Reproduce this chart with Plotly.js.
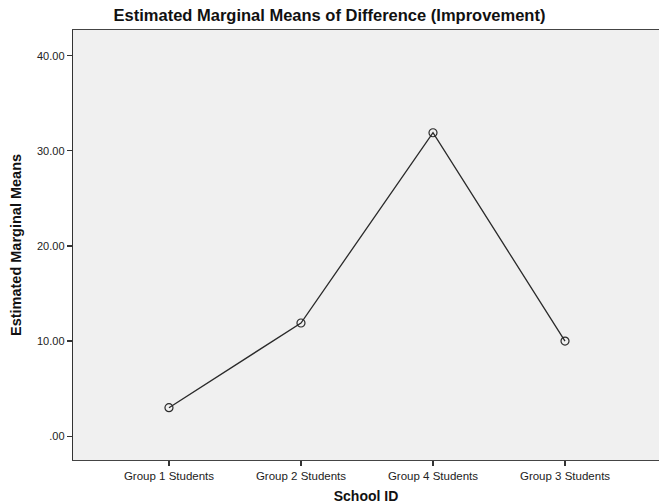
<!DOCTYPE html>
<html>
<head>
<meta charset="utf-8">
<script src="https://cdn.plot.ly/plotly-3.0.1.min.js"></script>
<style>html,body{margin:0;padding:0;background:#fff;}#chart{width:659px;height:504px;}</style>
</head>
<body>
<div id="chart"></div>
<script>
const categories = ["Group 1 Students", "Group 2 Students", "Group 4 Students", "Group 3 Students"];
const means = [3.0, 11.9, 31.9, 10.0];
const yTickValues = [0, 10, 20, 30, 40];
const yTickLabels = [".00", "10.00", "20.00", "30.00", "40.00"];

const trace = {
  x: categories,
  y: means,
  type: "scatter",
  mode: "lines+markers",
  line: {color: "#2a2a2a", width: 1.3},
  marker: {symbol: "circle-open", size: 8, color: "#2a2a2a", line: {width: 1.2, color: "#2a2a2a"}},
  hoverinfo: "skip",
  showlegend: false
};

const layout = {
  width: 659,
  height: 504,
  margin: {l: 73, r: 0, t: 30, b: 44, pad: 0},
  paper_bgcolor: "#ffffff",
  plot_bgcolor: "#f0f0f0",
  font: {family: "Liberation Sans, Arial, sans-serif", color: "#222"},
  title: {
    text: "<b>Estimated Marginal Means of Difference (Improvement)</b>",
    font: {size: 16.5, color: "#111"},
    x: 0.5, xref: "container", xanchor: "center",
    y: 0.97, yref: "container", yanchor: "middle"
  },
  xaxis: {
    type: "category",
    range: [-0.727, 3.712],
    showgrid: false,
    zeroline: false,
    showline: true,
    mirror: true,
    linecolor: "#444",
    linewidth: 1.3,
    ticks: "outside",
    ticklen: 5,
    tickwidth: 1.3,
    tickcolor: "#333",
    tickfont: {size: 11.5, color: "#222"},
    title: {text: "<b>School ID</b>", font: {size: 14, color: "#111"}, standoff: 10}
  },
  yaxis: {
    range: [-2.5, 42.7],
    tickvals: yTickValues,
    ticktext: yTickLabels,
    showgrid: false,
    zeroline: false,
    showline: true,
    linecolor: "#333",
    linewidth: 1.3,
    ticks: "outside",
    ticklen: 5,
    tickwidth: 1.3,
    tickcolor: "#333",
    tickfont: {size: 11, color: "#222"},
    title: {text: "<b>Estimated Marginal Means</b>", font: {size: 14.5, color: "#111"}, standoff: 12}
  }
};

Plotly.newPlot("chart", [trace], layout, {staticPlot: true, displayModeBar: false});
</script>
</body>
</html>
